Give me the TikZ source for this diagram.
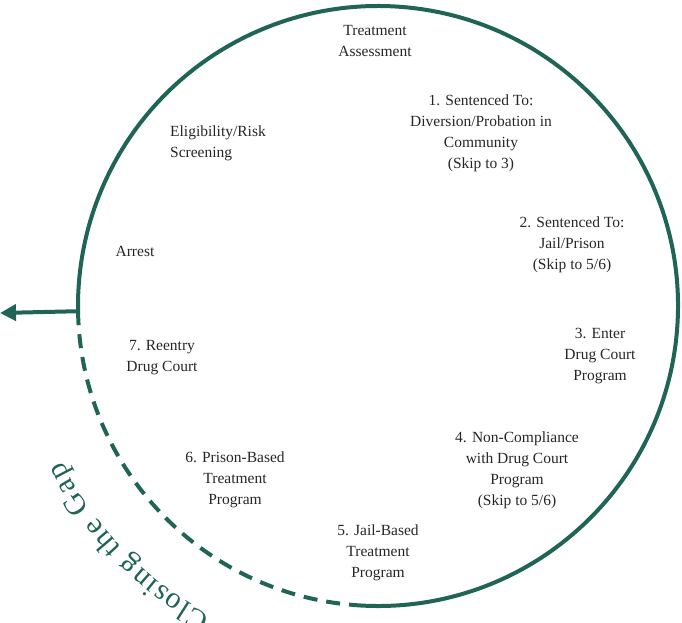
\documentclass[tikz,border=0pt]{standalone}
\usepackage{fontspec}
\setmainfont{Liberation Serif}
\usetikzlibrary{decorations.text,arrows.meta}
\definecolor{gapgreen}{RGB}{32,100,86}
\begin{document}
\begin{tikzpicture}[x=1pt,y=1pt,
  lbl/.style={align=center,font=\fontsize{15.5}{21}\selectfont,text=black!85}]
\useasboundingbox (0,0) rectangle (682,623);
\coordinate (c) at (378,317);
\draw[gapgreen,line width=4] (c) ++(265:300) arc[start angle=-95,end angle=181,radius=300];
\draw[gapgreen,line width=4,dash pattern=on 14pt off 9pt] (c) ++(181:300) coordinate (l) arc[start angle=181,end angle=265,radius=300];
\coordinate (tip) at (0,310);
\draw[gapgreen,line width=4,-{Triangle[length=16,width=16]}] (l) -- (tip);
\path[decorate,decoration={text along path,text align=center,raise=40pt,
  text={|\fontsize{30}{30}\selectfont\color{gapgreen}|Closing the Gap}}]
  (c) ++(262:312) arc[start angle=262,end angle=186,radius=312];
\node[lbl] (ta) at (375,582) {Treatment\\Assessment};
\node[lbl] (n1) at (481,490) {1. Sentenced To:\\Diversion/Probation in\\Community\\(Skip to 3)};
\node[lbl,align=left] (el) at (218,480) {Eligibility/Risk\\Screening};
\node[lbl] (n2) at (572,378) {2. Sentenced To:\\Jail/Prison\\(Skip to 5/6)};
\node[lbl] (ar) at (135,372) {Arrest};
\node[lbl] (n3) at (600,267) {3. Enter\\Drug Court\\Program};
\node[lbl] (n7) at (162,265) {7. Reentry\\Drug Court};
\node[lbl] (n4) at (517,153) {4. Non-Compliance\\with Drug Court\\Program\\(Skip to 5/6)};
\node[lbl] (n6) at (235,143) {6. Prison-Based\\Treatment\\Program};
\node[lbl] (n5) at (378,70) {5. Jail-Based\\Treatment\\Program};
\end{tikzpicture}
\end{document}
